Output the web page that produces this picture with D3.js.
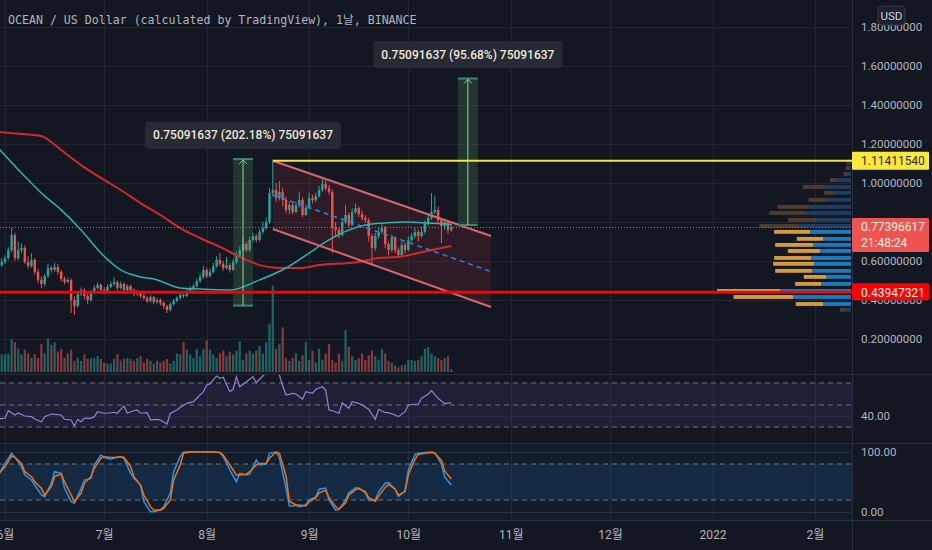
<!DOCTYPE html>
<html><head><meta charset="utf-8">
<script src="https://cdn.jsdelivr.net/npm/d3@7/dist/d3.min.js"></script>
<style>
html,body{margin:0;padding:0;background:#131722;overflow:hidden}
svg{display:block}
</style></head><body>
<svg id="c" width="932" height="550"></svg>
<script>
// ---------------- DATA ----------------
const title = "OCEAN / US Dollar (calculated by TradingView), 1날, BINANCE";
const startDate = "2021-05-30";
const opens = [0.560,0.579,0.595,0.615,0.656,0.733,0.615,0.656,0.667,0.595,
0.574,0.605,0.544,0.503,0.482,0.523,0.564,0.554,0.569,0.544,
0.508,0.492,0.503,0.400,0.369,0.431,0.451,0.421,0.400,0.441,
0.462,0.477,0.451,0.441,0.467,0.482,0.492,0.462,0.482,0.451,
0.472,0.451,0.431,0.436,0.421,0.410,0.395,0.415,0.390,0.400,
0.385,0.369,0.349,0.379,0.395,0.410,0.426,0.421,0.446,0.456,
0.472,0.497,0.518,0.554,0.523,0.544,0.574,0.605,0.585,0.564,
0.579,0.554,0.595,0.626,0.656,0.687,0.656,0.708,0.728,0.708,
0.749,0.769,0.800,0.949,0.964,0.923,0.954,0.913,0.862,0.887,
0.851,0.887,0.913,0.836,0.872,0.923,0.913,0.933,0.964,0.995,
0.974,0.954,0.769,0.759,0.733,0.800,0.836,0.785,0.851,0.872,
0.841,0.821,0.810,0.728,0.667,0.728,0.749,0.769,0.687,0.656,
0.718,0.656,0.631,0.682,0.656,0.708,0.728,0.749,0.728,0.749,
0.790,0.821,0.851,0.862,0.810,0.779,0.800,0.759];
const closes = [0.579,0.595,0.615,0.656,0.733,0.615,0.656,0.667,0.595,0.574,
0.605,0.544,0.503,0.482,0.523,0.564,0.554,0.569,0.544,0.508,
0.492,0.503,0.400,0.369,0.431,0.451,0.421,0.400,0.441,0.462,
0.477,0.451,0.441,0.467,0.482,0.492,0.462,0.482,0.451,0.472,
0.451,0.431,0.436,0.421,0.410,0.395,0.415,0.390,0.400,0.385,
0.369,0.349,0.379,0.395,0.410,0.426,0.421,0.446,0.456,0.472,
0.497,0.518,0.554,0.523,0.544,0.574,0.605,0.585,0.564,0.579,
0.554,0.595,0.626,0.656,0.687,0.656,0.708,0.728,0.708,0.749,
0.769,0.800,0.949,0.964,0.923,0.954,0.913,0.862,0.887,0.851,
0.887,0.913,0.836,0.872,0.923,0.913,0.933,0.964,0.995,0.974,
0.954,0.769,0.759,0.733,0.800,0.836,0.785,0.851,0.872,0.841,
0.821,0.810,0.728,0.667,0.728,0.749,0.769,0.687,0.656,0.718,
0.656,0.631,0.682,0.656,0.708,0.728,0.749,0.728,0.749,0.790,
0.821,0.851,0.862,0.810,0.779,0.800,0.759,0.774];
const highs = [0.600,0.615,0.630,0.672,0.769,0.745,0.700,0.690,0.680,0.625,
0.640,0.615,0.560,0.520,0.535,0.585,0.575,0.590,0.585,0.555,
0.520,0.515,0.510,0.420,0.445,0.465,0.460,0.430,0.450,0.475,
0.490,0.485,0.465,0.480,0.495,0.515,0.500,0.495,0.490,0.480,
0.480,0.460,0.450,0.445,0.430,0.420,0.425,0.420,0.410,0.408,
0.392,0.375,0.388,0.405,0.420,0.436,0.440,0.458,0.470,0.485,
0.510,0.535,0.575,0.565,0.560,0.590,0.625,0.640,0.600,0.620,
0.590,0.610,0.650,0.675,0.720,0.700,0.725,0.745,0.740,0.765,
0.800,0.820,0.975,1.114,1.000,1.010,0.975,0.930,0.905,0.900,
0.905,0.955,0.925,0.890,0.950,0.940,0.950,0.985,1.031,1.015,
0.990,0.965,0.800,0.775,0.820,0.885,0.850,0.870,0.895,0.880,
0.860,0.835,0.820,0.740,0.745,0.770,0.790,0.780,0.700,0.735,
0.725,0.670,0.700,0.695,0.725,0.745,0.770,0.760,0.775,0.810,
0.845,0.949,0.935,0.880,0.820,0.815,0.810,0.790];
const lows = [0.545,0.570,0.585,0.605,0.645,0.600,0.605,0.640,0.585,0.560,
0.565,0.530,0.485,0.460,0.470,0.515,0.540,0.545,0.530,0.495,
0.480,0.485,0.333,0.323,0.360,0.420,0.405,0.380,0.392,0.432,
0.455,0.440,0.430,0.435,0.460,0.470,0.450,0.455,0.440,0.440,
0.438,0.420,0.420,0.410,0.398,0.385,0.388,0.378,0.380,0.372,
0.355,0.333,0.342,0.372,0.388,0.402,0.410,0.415,0.438,0.448,
0.465,0.488,0.510,0.512,0.515,0.535,0.565,0.575,0.550,0.555,
0.540,0.548,0.585,0.615,0.648,0.645,0.650,0.700,0.695,0.700,
0.740,0.760,0.790,0.930,0.905,0.910,0.880,0.845,0.840,0.838,
0.845,0.875,0.825,0.830,0.865,0.895,0.900,0.925,0.955,0.960,
0.940,0.641,0.730,0.715,0.725,0.790,0.770,0.780,0.840,0.825,
0.805,0.795,0.700,0.579,0.650,0.715,0.740,0.665,0.630,0.645,
0.640,0.615,0.620,0.640,0.650,0.695,0.715,0.700,0.720,0.740,
0.780,0.810,0.840,0.795,0.692,0.760,0.740,0.750];
const volumes = [18,19,19,20,35,32,25,19,24,20,
15,19,15,30,20,36,29,32,22,25,
15,20,24,12,15,12,19,14,15,15,
17,14,10,9,9,14,19,12,14,15,
14,12,15,17,10,14,12,9,12,10,
12,14,9,12,20,19,32,24,19,15,
25,17,25,34,24,19,15,20,23,17,
22,19,23,33,13,20,23,20,23,28,
20,32,52,93,25,30,48,15,12,15,
20,12,18,32,13,23,10,25,13,20,
30,13,10,20,12,45,27,17,13,15,
20,13,18,23,17,13,25,20,12,10,
7,5,7,8,13,13,12,13,17,25,
27,20,17,15,13,15,17,3];
// moving averages: [candle index, value]
const maFast = [[0,1.179],[7,1.051],[13,0.949],[19,0.862],[25,0.759],[31,0.641],[37,0.554],[43,0.518],[47,0.508],[55,0.462],[61,0.456],[70,0.451],[79,0.503],[87,0.564],[94,0.641],[100,0.708],[106,0.759],[111,0.785],[117,0.795],[124,0.800],[130,0.795],[137,0.787]];
const maSlow = [[0,1.262],[7,1.251],[13,1.241],[16,1.210],[19,1.169],[25,1.092],[31,1.026],[37,0.964],[43,0.897],[49,0.836],[55,0.769],[61,0.718],[67,0.672],[73,0.621],[79,0.579],[85,0.564],[91,0.564],[97,0.579],[109,0.595],[115,0.615],[121,0.621],[127,0.641],[134,0.667],[137,0.677]];
// RSI: [candle index, value]
const rsi = [[0,37.0],[2,38.2],[3,44.8],[5,40.9],[6,42.7],[8,40],[10,39.4],[11,37.3],[13,34.8],[14,39.4],[16,41.8],[17,41.5],[19,40.9],[20,37],[22,36.4],[23,30.9],[24,37],[25,34.8],[26,37.9],[28,37.9],[29,39.4],[30,43.9],[32,42.5],[33,42.5],[35,43.4],[36,42.5],[37,46.1],[38,49.1],[39,42.5],[40,43.9],[42,45.5],[43,42.5],[45,43],[46,36.4],[48,37],[49,36.4],[51,32.7],[52,42.5],[54,45.5],[55,47.9],[57,51.5],[59,53],[60,56.1],[62,62.1],[63,68.2],[64,69.1],[66,76.4],[67,74.3],[68,75.2],[70,62.1],[71,64.3],[72,75.7],[73,66.6],[75,71.2],[77,75.7],[78,70.3],[80,76.4],[81,79],[83,86],[84,85],[85,77.3],[86,67.3],[87,59.1],[89,60.6],[90,60],[92,55.2],[93,62.1],[95,60.6],[96,64.3],[98,66.6],[99,63.6],[100,45.5],[101,44.8],[103,42.5],[104,52.1],[106,47],[107,53],[109,51.5],[110,50],[112,46.1],[114,37],[115,46.1],[117,43],[118,43],[120,40.9],[121,39.4],[123,43.9],[124,50],[127,50.9],[128,56.1],[130,60],[131,63],[133,56.1],[135,51.2],[137,52.1]];
// Stochastic RSI sampled at these candle indexes
const stochIdx = [0,2,4,5,7,8,10,11,13,14,16,17,19,20,22,23,25,26,28,29,31,32,34,35,37,38,40,41,43,44,46,47,49,50,52,53,55,56,58,59,61,62,64,65,67,68,70,72,73,75,76,78,79,81,82,84,85,87,88,90,91,93,94,96,97,99,100,102,103,105,106,108,109,111,112,114,115,117,118,120,121,123,124,126,127,129,131,132,134,135,137];
const stochK = [61.7,81,97.8,91,75.5,61.7,53.3,45,28.3,25.5,
47.8,67.2,64.5,39.5,17.2,14.5,39.5,53.3,56,78.3,
95,91,87.8,90,92.2,89,64.5,56,45,17.2,
0.5,0.5,3.3,8.9,31.1,67.2,92.2,100,100,100,
100,100,100,100,99,92.2,70,50.5,64.5,61.7,
63,86.7,78.3,80,97.8,100,90,40,10,11,
9,12,20,25,38,40,20,3,4,20,
32,40,40,32,20,20,33,48,49,38,
26,35,70,96,98,99,100,99,80,58,45];
const stochD = [63,75.5,93.3,91,81,67.2,58.9,50.5,39.5,28.3,
42.2,58.9,63.3,50.5,28.3,17.2,31.1,47.8,58.9,72.8,
89.5,92.2,91,91,92.2,91,75.5,58.9,45,28.3,
8.9,3.3,3.3,6.1,20,53.3,78.3,97.8,100,100,
100,100,100,100,99,95,78.3,61.7,61.7,63,
67.2,78.3,81,81,89.5,100,97.8,60,18,11.7,
11.7,10,17,24,32,36,24,9,5,15,
28,37,39,34,24,18,26,41,46,38,
28,34,62,88,96,98,99,98,86,68,55];
// Volume profile rows
const vpPrice = [1.103,1.077,1.046,1.015,0.979,0.949,0.913,0.877,0.846,0.810,0.779,0.749,0.713,0.682,0.651,0.615,0.585,0.549,0.518,0.482,0.446,0.415,0.379,0.349];
const vpUp   = [3,2,3.3,14.3,26,16,23.3,41.7,45.3,35,51.7,41,27.7,37.7,31,40,37,38.7,25,30,71,57.7,27.7,5];
const vpDown = [1,3.3,4.3,6.7,22.3,11,19.3,32,36.7,28.3,40,36,26.7,38.3,32.3,37,41,37.3,22.3,26,63.3,60,27.7,6];
const vaHigh = 0.765, vaLow = 0.362;
const priceTicks = [1.8,1.6,1.4,1.2,1.0,0.8,0.6,0.4,0.2];
const monthTicks = ["2021-06-01","2021-07-01","2021-08-01","2021-09-01","2021-10-01","2021-11-01","2021-12-01","2022-01-01","2022-02-01"];
const monthLabels = ["6월","7월","8월","9월","10월","11월","12월","2022","2월"];
const lastPrice = 0.77396617, countdown = "21:48:24";
const resistance = 1.11411540, support = 0.43947321;
const ranges = [
  {from:"2021-08-09", to:"2021-08-15", low:0.37142, high:1.12234, label:"0.75091637 (202.18%) 75091637"},
  {from:"2021-10-16", to:"2021-10-22", low:0.78483, high:1.53575, label:"0.75091637 (95.68%) 75091637"}
];
const channel = {start:"2021-08-21", end:"2021-10-26", top:[1.114,0.728], bottom:[0.764,0.364]};
const rsiTicks = [40], stochTicks = [100,0];

// ---------------- CHART ----------------
const svg = d3.select("#c");
const W = 932, H = 550, PR = 852;
const parse = d3.utcParse("%Y-%m-%d");
const day0 = parse(startDate);
const dateAt = i => d3.utcDay.offset(day0, i);
const x = d3.scaleUtc().domain([parse("2021-06-01"), parse("2022-02-01")]).range([5, 815]);
const yP = d3.scaleLinear().domain([0.2, 1.8]).range([339, 27]);
const yV = d3.scaleLinear().domain([0, 100]).range([372, 279]);
const yR = d3.scaleLinear().domain([30, 70]).range([427, 383]);
const yS = d3.scaleLinear().domain([0, 100]).range([512, 452]);
const font = "Roboto, 'Noto Sans CJK KR', sans-serif";

svg.append("rect").attr("width", W).attr("height", H).attr("fill", "#131722");
const defs = svg.append("defs");
[["cm",0,0,PR,374],["cr",0,375,PR,68],["cs",0,444,PR,76]].forEach(([id,a,b,w,h])=>{
  defs.append("clipPath").attr("id", id).append("rect").attr("x",a).attr("y",b).attr("width",w).attr("height",h);
});

// grid
const grid = svg.append("g").attr("stroke", "#222631").attr("stroke-width", 1);
monthTicks.forEach(m => grid.append("line").attr("x1", Math.round(x(parse(m)))+0.5).attr("x2", Math.round(x(parse(m)))+0.5).attr("y1", 0).attr("y2", 520));
priceTicks.forEach(p => grid.append("line").attr("x1", 0).attr("x2", PR).attr("y1", Math.round(yP(p))+0.5).attr("y2", Math.round(yP(p))+0.5));
rsiTicks.forEach(v => grid.append("line").attr("x1",0).attr("x2",PR).attr("y1",Math.round(yR(v))+0.5).attr("y2",Math.round(yR(v))+0.5));
stochTicks.forEach(v => grid.append("line").attr("x1",0).attr("x2",PR).attr("y1",Math.round(yS(v))+0.5).attr("y2",Math.round(yS(v))+0.5).attr("stroke","#2a2e39"));

const main = svg.append("g").attr("clip-path", "url(#cm)");
const data = closes.map((c, i) => ({d: dateAt(i), o: opens[i], h: highs[i], l: lows[i], c, v: volumes[i], up: c >= opens[i]}));

// volume
main.append("g").selectAll("rect").data(data).join("rect")
  .attr("x", d => x(d.d) - 1.1).attr("width", 2.2)
  .attr("y", d => yV(d.v)).attr("height", d => yV(0) - yV(d.v))
  .attr("fill", d => d.up ? "#26a69a" : "#ef5350").attr("opacity", 0.55);

// channel fill
const cs = parse(channel.start), ce = parse(channel.end);
main.append("path")
  .attr("d", `M${x(cs)},${yP(channel.top[0])}L${x(ce)},${yP(channel.top[1])}L${x(ce)},${yP(channel.bottom[1])}L${x(cs)},${yP(channel.bottom[0])}Z`)
  .attr("fill", "rgba(242,54,69,0.12)");

// range boxes fill
ranges.forEach(r => {
  const x0 = x(parse(r.from)), x1 = x(parse(r.to));
  main.append("rect").attr("x", x0).attr("width", x1 - x0).attr("y", yP(r.high)).attr("height", yP(r.low) - yP(r.high))
    .attr("fill", "rgba(90,180,100,0.2)");
});

// candles
const cg = main.append("g");
cg.selectAll("line").data(data).join("line")
  .attr("x1", d => x(d.d)).attr("x2", d => x(d.d))
  .attr("y1", d => yP(d.h)).attr("y2", d => yP(d.l))
  .attr("stroke", d => d.up ? "#26a69a" : "#ef5350").attr("stroke-width", 1);
cg.selectAll("rect").data(data).join("rect")
  .attr("x", d => x(d.d) - 1.2).attr("width", 2.4)
  .attr("y", d => yP(Math.max(d.o, d.c))).attr("height", d => Math.max(1, Math.abs(yP(d.o) - yP(d.c))))
  .attr("fill", d => d.up ? "#26a69a" : "#ef5350");

// moving averages
const maLine = d3.line().x(d => x(dateAt(d[0]))).y(d => yP(d[1])).curve(d3.curveMonotoneX);
main.append("path").attr("d", maLine(maSlow)).attr("fill", "none").attr("stroke", "#d3272b").attr("stroke-width", 2);
main.append("path").attr("d", maLine(maFast)).attr("fill", "none").attr("stroke", "#2bb3b3").attr("stroke-width", 1.5);

// channel lines
const chan = main.append("g").attr("fill", "none");
chan.append("line").attr("x1", x(cs)).attr("y1", yP(channel.top[0])).attr("x2", x(ce)).attr("y2", yP(channel.top[1])).attr("stroke", "#d9646a").attr("stroke-width", 2);
chan.append("line").attr("x1", x(cs)).attr("y1", yP(channel.bottom[0])).attr("x2", x(ce)).attr("y2", yP(channel.bottom[1])).attr("stroke", "#d9646a").attr("stroke-width", 2);
chan.append("line").attr("x1", x(cs)).attr("y1", yP((channel.top[0]+channel.bottom[0])/2)).attr("x2", x(ce)).attr("y2", yP((channel.top[1]+channel.bottom[1])/2))
  .attr("stroke", "#2f7fe0").attr("stroke-width", 1.5).attr("stroke-dasharray", "5,4");

// range box borders / arrows
ranges.forEach(r => {
  const x0 = x(parse(r.from)), x1 = x(parse(r.to)), xm = (x0 + x1) / 2;
  const g = main.append("g");
  g.append("line").attr("x1", x0).attr("x2", x1).attr("y1", yP(r.high)).attr("y2", yP(r.high)).attr("stroke", "#3d8a72").attr("stroke-width", 2);
  g.append("line").attr("x1", x0).attr("x2", x1).attr("y1", yP(r.low)).attr("y2", yP(r.low)).attr("stroke", "#3d8a72").attr("stroke-width", 2);
  g.append("line").attr("x1", xm).attr("x2", xm).attr("y1", yP(r.low)).attr("y2", yP(r.high)).attr("stroke", "#9fc7a8").attr("stroke-width", 1);
  g.append("path").attr("d", `M${xm-4},${yP(r.high)+5}L${xm},${yP(r.high)+1}L${xm+4},${yP(r.high)+5}`).attr("fill", "none").attr("stroke", "#9fc7a8").attr("stroke-width", 1);
});

// volume profile
const rowH = Math.abs(yP(vpPrice[0]) - yP(vpPrice[1]));
const totals = vpUp.map((u, i) => u + vpDown[i]);
const vpW = d3.scaleLinear().domain([0, d3.max(totals)]).range([0, 134]);
const vp = svg.append("g");
vpPrice.forEach((p, i) => {
  const inVA = p <= vaHigh && p >= vaLow;
  const yc = yP(p), wu = vpW(vpUp[i]), wd = vpW(vpDown[i]);
  vp.append("rect").attr("x", PR - 1 - wu).attr("width", wu).attr("y", yc - rowH/2 + 0.5).attr("height", rowH - 1.2)
    .attr("fill", inVA ? "#1d7bbd" : "#1d3e62");
  vp.append("rect").attr("x", PR - 1 - wu - wd).attr("width", wd).attr("y", yc - rowH/2 + 0.5).attr("height", rowH - 1.2)
    .attr("fill", inVA ? "#d59b3e" : "#4e3c2f");
});

// horizontal lines
svg.append("line").attr("x1", x(dateAt(83))).attr("x2", PR).attr("y1", yP(resistance)).attr("y2", yP(resistance)).attr("stroke", "#f5e43a").attr("stroke-width", 2);
svg.append("line").attr("x1", 0).attr("x2", PR).attr("y1", yP(support)).attr("y2", yP(support)).attr("stroke", "#ff0000").attr("stroke-width", 3);
svg.append("line").attr("x1", 0).attr("x2", PR).attr("y1", Math.round(yP(lastPrice))+0.5).attr("y2", Math.round(yP(lastPrice))+0.5).attr("stroke", "#ef5350").attr("stroke-width", 1).attr("stroke-dasharray", "1,2");

// range labels
ranges.forEach(r => {
  const xm = (x(parse(r.from)) + x(parse(r.to))) / 2, yc = yP(r.high) - 24;
  const g = svg.append("g");
  const rect = g.append("rect").attr("rx", 4).attr("fill", "#262a35");
  const t = g.append("text").attr("x", xm).attr("y", yc).attr("dy", "0.35em").attr("text-anchor", "middle")
    .attr("font-family", font).attr("font-size", 12).attr("font-weight", 500).attr("fill", "#efe9d6").text(r.label);
  const w = t.node().getComputedTextLength() + 16;
  rect.attr("x", xm - w/2).attr("width", w).attr("y", yc - 13.5).attr("height", 27);
});

// title
svg.append("text").attr("x", 8).attr("y", 24).attr("font-family", "'DejaVu Sans Mono','Noto Sans CJK KR',monospace").attr("font-size", 11.6)
  .attr("fill", "#b2b5be").text(title);

// RSI pane
const rp = svg.append("g");
rp.append("rect").attr("x", 0).attr("width", PR).attr("y", yR(70)).attr("height", yR(30) - yR(70)).attr("fill", "rgba(126,87,194,0.12)");
[70, 50, 30].forEach(v => rp.append("line").attr("x1", 0).attr("x2", PR).attr("y1", yR(v)).attr("y2", yR(v))
  .attr("stroke", "#787b86").attr("stroke-dasharray", "5,4").attr("opacity", 0.9));
rp.append("path").attr("clip-path", "url(#cr)")
  .attr("d", d3.line().x(d => x(dateAt(d[0]))).y(d => yR(d[1]))(rsi))
  .attr("fill", "none").attr("stroke", "#8a86d6").attr("stroke-width", 1.2);

// Stoch pane
const sp = svg.append("g");
sp.append("rect").attr("x", 0).attr("width", PR).attr("y", 444).attr("height", 76).attr("fill", "rgba(33,150,243,0.04)");
sp.append("rect").attr("x", 0).attr("width", PR).attr("y", yS(80)).attr("height", yS(20) - yS(80)).attr("fill", "rgba(33,150,243,0.12)");
[80, 20].forEach(v => sp.append("line").attr("x1", 0).attr("x2", PR).attr("y1", yS(v)).attr("y2", yS(v))
  .attr("stroke", "#787b86").attr("stroke-dasharray", "5,4").attr("opacity", 0.9));
const sLine = vals => d3.line().x((d, i) => x(dateAt(stochIdx[i]))).y(d => yS(d))(vals);
sp.append("path").attr("clip-path", "url(#cs)").attr("d", sLine(stochK)).attr("fill", "none").attr("stroke", "#2196f3").attr("stroke-width", 1.5);
sp.append("path").attr("clip-path", "url(#cs)").attr("d", sLine(stochD)).attr("fill", "none").attr("stroke", "#ff6d00").attr("stroke-width", 1.5);

// separators
const sep = svg.append("g").attr("stroke", "#2a2e39").attr("stroke-width", 1);
[374.5, 443.5, 520.5].forEach(y => sep.append("line").attr("x1", 0).attr("x2", W).attr("y1", y).attr("y2", y));
sep.append("line").attr("x1", PR + 0.5).attr("x2", PR + 0.5).attr("y1", 0).attr("y2", H);

// price axis
const ax = svg.append("g").attr("transform", `translate(${PR},0)`)
  .call(d3.axisRight(yP).tickValues(priceTicks).tickFormat(d3.format(".8f")).tickSize(0).tickPadding(9));
ax.select(".domain").remove();
ax.selectAll("text").attr("font-family", font).attr("font-size", 11.5).attr("fill", "#b2b5be");

const axR = svg.append("g").attr("transform", `translate(${PR},0)`)
  .call(d3.axisRight(yR).tickValues(rsiTicks).tickFormat(d3.format(".2f")).tickSize(0).tickPadding(9));
axR.select(".domain").remove();
axR.selectAll("text").attr("font-family", font).attr("font-size", 11.5).attr("fill", "#b2b5be");
const axS = svg.append("g").attr("transform", `translate(${PR},0)`)
  .call(d3.axisRight(yS).tickValues(stochTicks).tickFormat(d3.format(".2f")).tickSize(0).tickPadding(9));
axS.select(".domain").remove();
axS.selectAll("text").attr("font-family", font).attr("font-size", 11.5).attr("fill", "#b2b5be");

// time axis
const axT = svg.append("g").attr("transform", "translate(0,521)")
  .call(d3.axisBottom(x).tickValues(monthTicks.map(parse)).tickFormat((d, i) => monthLabels[i]).tickSize(0).tickPadding(9));
axT.select(".domain").remove();
axT.selectAll("text").attr("font-family", font).attr("font-size", 12).attr("fill", "#b2b5be");

// price labels on axis
function tag(yc, h, fill, lines, color) {
  const g = svg.append("g");
  g.append("rect").attr("x", PR).attr("width", 77).attr("y", yc - 9).attr("height", h).attr("rx", 1).attr("fill", fill);
  lines.forEach((s, i) => g.append("text").attr("x", PR + 9).attr("y", yc + i * 16).attr("dy", "0.36em")
    .attr("font-family", font).attr("font-size", 12).attr("fill", color).text(s));
}
tag(yP(resistance), 18, "#fde93b", [d3.format(".8f")(resistance)], "#2a2a2a");
tag(yP(lastPrice), 34, "#ef5350", [d3.format(".8f")(lastPrice), countdown], "#fff4e6");
tag(yP(support), 17, "#ff0000", [d3.format(".8f")(support)], "#fff6ec");

// USD badge
svg.append("rect").attr("x", 878).attr("y", 6).attr("width", 27).attr("height", 19).attr("rx", 4).attr("fill", "#1c2030").attr("stroke", "#363a45");
svg.append("text").attr("x", 891.5).attr("y", 16).attr("dy", "0.35em").attr("text-anchor", "middle").attr("font-family", font).attr("font-size", 11.5).attr("fill", "#d1d4dc").text("USD");
</script></body></html>
